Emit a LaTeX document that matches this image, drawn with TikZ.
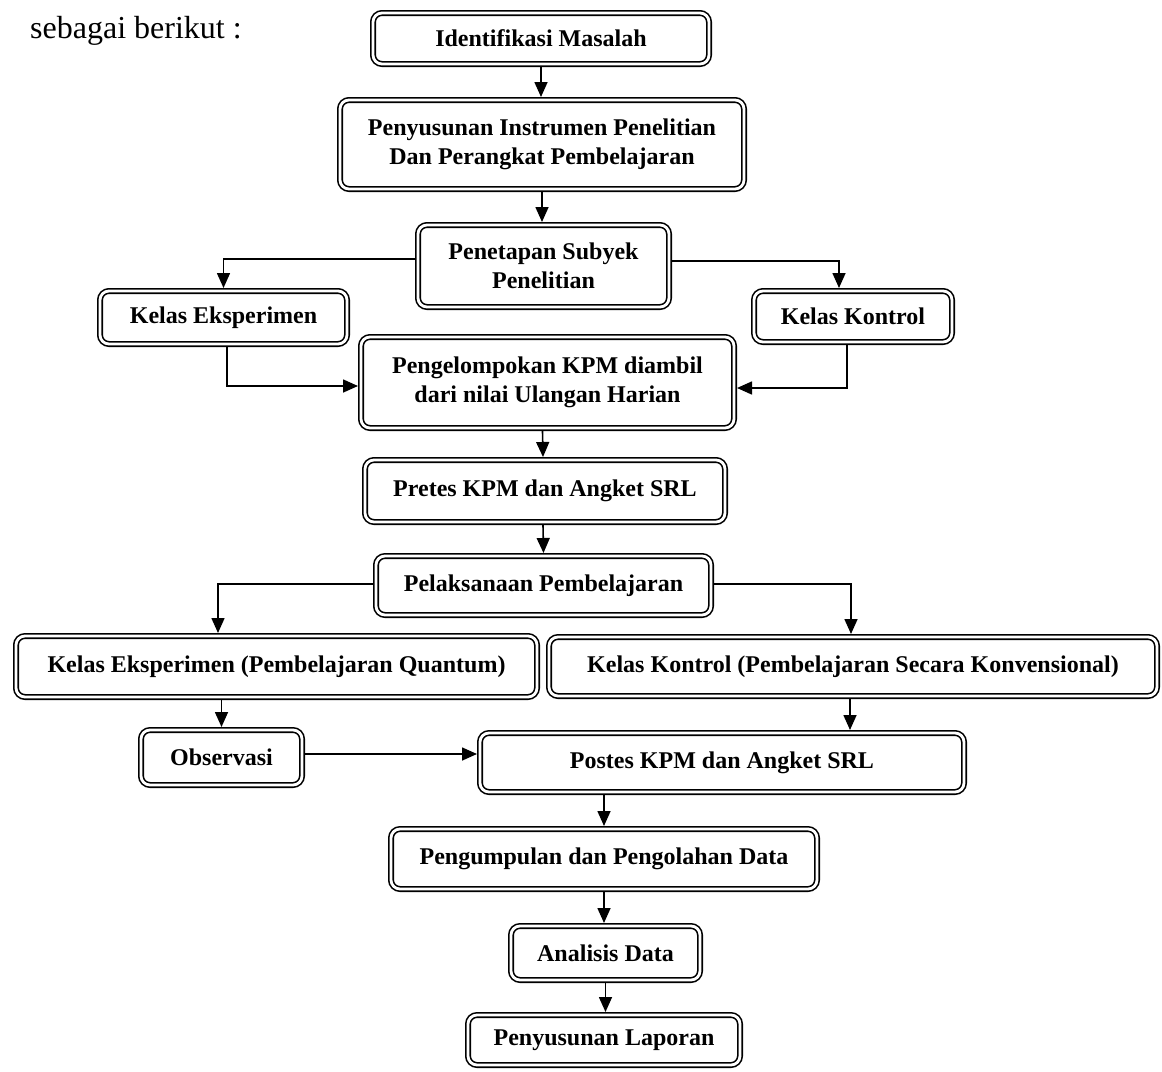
\documentclass[tikz,border=0pt]{standalone}
\usepackage{fontspec}
\setmainfont{Liberation Serif}
\usetikzlibrary{arrows.meta}
\tikzset{
  fbox/.style={draw, line width=1.6pt, double, double distance=2.8pt,
    rounded corners=9pt, inner sep=0pt, outer sep=3pt, align=center,
    font=\bfseries\fontsize{24}{29}\selectfont},
  arr/.style={line width=1.6pt, -{Triangle[width=13pt,length=15pt]}},
}
\newcommand{\fb}[6]{\node[fbox, minimum width=#4pt, minimum height=#5pt] (#1) at (#2,#3) {#6};}
\begin{document}
\begin{tikzpicture}[x=1pt,y=-1pt]
\useasboundingbox[fill=white] (0,0) rectangle (1162,1071);
\node[anchor=base west, inner sep=0pt, font=\fontsize{32}{32}\selectfont] (intro) at (30,38) {sebagai berikut :};
\fb{id}{541}{38.5}{336}{51}{Identifikasi Masalah}
\fb{pen}{542}{144.5}{404}{89}{Penyusunan Instrumen Penelitian\\Dan Perangkat Pembelajaran}
\fb{pet}{543.5}{266}{251}{82}{Penetapan Subyek\\Penelitian}
\fb{ke}{223.5}{317.5}{247}{53}{Kelas Eksperimen}
\fb{kk}{853}{316.5}{198}{51}{Kelas Kontrol}
\fb{pkl}{547.5}{382.5}{373}{91}{Pengelompokan KPM diambil\\dari nilai Ulangan Harian}
\fb{pre}{545}{491}{360}{62}{Pretes KPM dan Angket SRL}
\fb{pel}{543.5}{585.5}{335}{59}{Pelaksanaan Pembelajaran}
\fb{keq}{276.5}{666.5}{521}{61}{Kelas Eksperimen (Pembelajaran Quantum)}
\fb{kkk}{853}{666.5}{608}{59}{Kelas Kontrol (Pembelajaran Secara Konvensional)}
\fb{obs}{221.5}{757.5}{161}{55}{Observasi}
\fb{pos}{722}{762.5}{484}{59}{Postes KPM dan Angket SRL}
\fb{pgd}{604}{859}{426}{60}{Pengumpulan dan Pengolahan Data}
\fb{ana}{605.5}{953}{189}{54}{Analisis Data}
\fb{lap}{604}{1040}{272}{50}{Penyusunan Laporan}

\draw[arr] (id.south) -- (id.south |- pen.north);
\draw[arr] (pen.south) -- (pen.south |- pet.north);
\draw[arr] ([yshift=7pt]pet.west) -| (ke.north);
\draw[arr] ([yshift=5pt]pet.east) -| ([xshift=-14pt]kk.north);
\draw[arr] ([xshift=3.5pt]ke.south) |- ([yshift=-3.5pt]pkl.west);
\draw[arr] ([xshift=-6pt]kk.south) |- ([yshift=-5.5pt]pkl.east);
\draw[arr] ([xshift=-5pt]pkl.south) -- ([xshift=-2pt]pre.north);
\draw[arr] ([xshift=-2pt]pre.south) -- (pel.north);
\draw[arr] ([yshift=1.5pt]pel.west) -| ([xshift=-58.5pt]keq.north);
\draw[arr] ([yshift=1.5pt]pel.east) -| ([xshift=-2pt]kkk.north);
\draw[arr] (obs.north |- keq.south) -- (obs.north);
\draw[arr] ([xshift=-3pt]kkk.south) -- ([xshift=-3pt]kkk.south |- pos.north);
\draw[arr] ([yshift=3.5pt]obs.east) -- ([yshift=3.5pt]obs.east -| pos.west);
\draw[arr] (pgd.north |- pos.south) -- (pgd.north);
\draw[arr] (pgd.south) -- (pgd.south |- ana.north);
\draw[arr] (ana.south) -- (ana.south |- lap.north);
\end{tikzpicture}
\end{document}
